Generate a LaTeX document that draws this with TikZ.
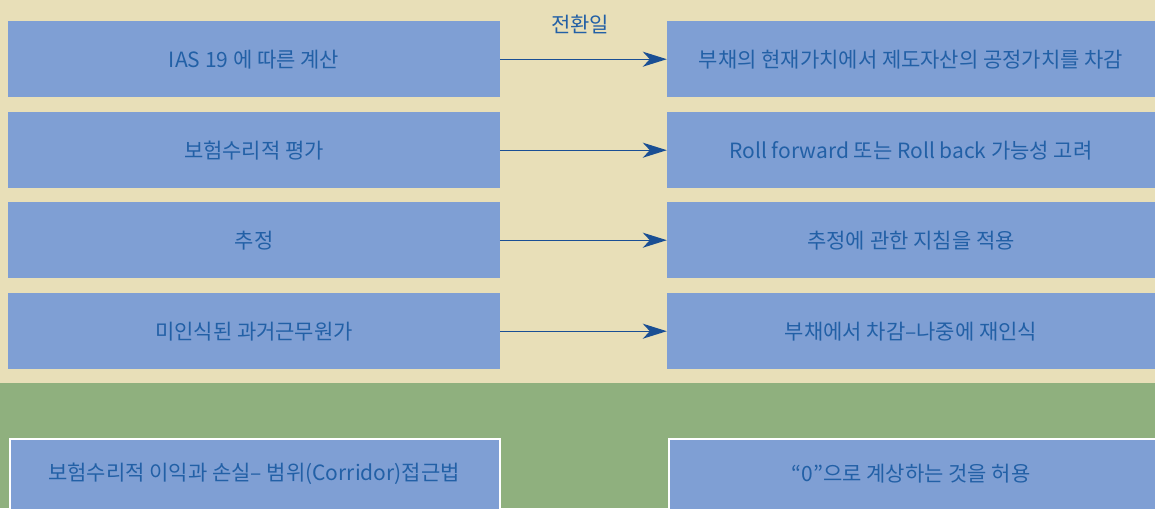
\documentclass[tikz,border=0pt]{standalone}
\usepackage{fontspec}
\setmainfont{Noto Sans CJK KR}
\usetikzlibrary{arrows.meta}
\definecolor{beige}{HTML}{E8DFB8}
\definecolor{boxblue}{HTML}{7F9FD4}
\definecolor{grn}{HTML}{8FB07E}
\definecolor{txt}{HTML}{2260A6}
\definecolor{arr}{HTML}{1A4F94}
\tikzset{
  lbl/.style={text=txt, font=\fontsize{21}{24}\selectfont},
  box/.style={fill=boxblue, draw=none, minimum height=76pt, inner sep=0pt, lbl, anchor=north},
  lbox/.style={box, minimum width=492pt},
  rbox/.style={box, minimum width=488pt},
  bbox/.style={box, draw=white, line width=2pt, minimum height=80pt},
  conn/.style={draw=arr, line width=1.3pt, -{Stealth[length=24pt, width=15pt, inset=7pt]}}
}
\begin{document}
\begin{tikzpicture}[x=1pt,y=-1pt]
\useasboundingbox (0,0) rectangle (1155,508);
\fill[beige] (0,0) rectangle (1155,383);
\fill[grn] (0,383) rectangle (1155,508);
\node[lbox] (l1) at (254,21) {IAS 19 에 따른 계산};
\node[rbox] (r1) at (911,21) {부채의 현재가치에서 제도자산의 공정가치를 차감};
\node[lbox] (l2) at (254,112) {보험수리적 평가};
\node[rbox] (r2) at (911,112) {Roll forward 또는 Roll back 가능성 고려};
\node[lbox] (l3) at (254,202) {추정};
\node[rbox] (r3) at (911,202) {추정에 관한 지침을 적용};
\node[lbox] (l4) at (254,293) {미인식된 과거근무원가};
\node[rbox] (r4) at (911,293) {부채에서 차감–나중에 재인식};
\node[lbl] (t) at (580,24) {전환일};
\foreach \i in {1,2,3,4} \draw[conn] (l\i.east) -- (r\i.west);
\node[bbox, minimum width=490pt, anchor=north west] (b1) at (9,438) {};
\node[lbl] (bt1) at (254,474) {보험수리적 이익과 손실– 범위(Corridor)접근법};
\node[bbox, minimum width=495pt, anchor=north west] (b2) at (668,438) {};
\node[lbl] (bt2) at (911,474) {“0”으로 계상하는 것을 허용};
\end{tikzpicture}
\end{document}
